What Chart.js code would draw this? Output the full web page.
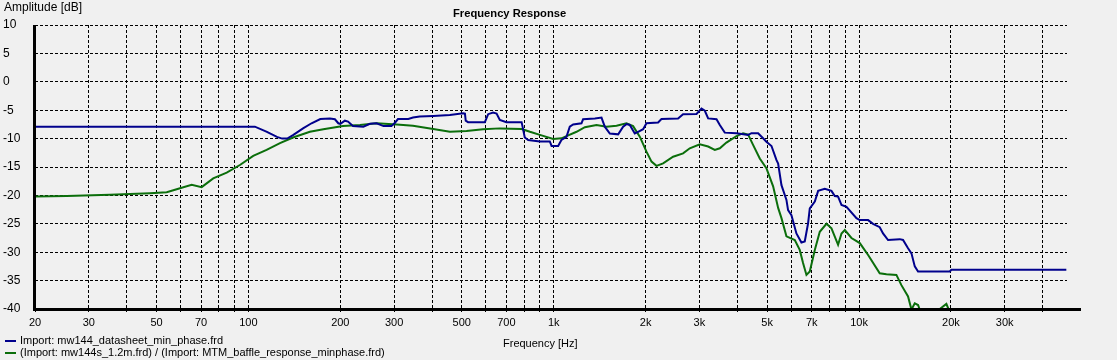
<!DOCTYPE html>
<html lang="en">
<head>
    <meta charset="UTF-8">
    <title>Frequency Response</title>
    <style>
        body {
            margin: 0;
            background-color: #f0f0f0;
            font-family: "Liberation Sans", Arial, sans-serif;
            font-size: 11px;
            color: #000;
        }
        .wrap {
            position: relative;
            width: 1117px;
            height: 360px;
            overflow: hidden;
        }
        canvas {
            position: absolute;
            left: 0;
            top: 0;
        }
        .lbl {
            position: absolute;
            white-space: nowrap;
            line-height: 14px;
        }
        .title {
            left: 453px;
            top: 6px;
            font-weight: bold;
            font-size: 11.2px;
        }
        .ytitle {
            left: 4px;
            top: 0px;
            font-size: 12px;
        }
        .xtitle {
            left: 503px;
            top: 336px;
        }
        .leg {
            position: absolute;
            left: 5px;
            white-space: nowrap;
            line-height: 12px;
        }
        .leg span {
            display: inline-block;
            width: 11px;
            height: 2px;
            margin-right: 4px;
            vertical-align: middle;
        }
    </style>
    <script src="https://cdn.jsdelivr.net/npm/chart.js"></script>
</head>
<body>
<div class="wrap">
    <canvas id="chart" width="1117" height="360"></canvas>
    <div class="lbl title">Frequency Response</div>
    <div class="lbl ytitle">Amplitude [dB]</div>
    <div class="lbl xtitle">Frequency [Hz]</div>
    <div class="leg" style="top: 334px"><span style="background:#00008c"></span>Import: mw144_datasheet_min_phase.frd</div>
    <div class="leg" style="top: 346px"><span style="background:#0b6e0b"></span>(Import: mw144s_1.2m.frd) / (Import: MTM_baffle_response_minphase.frd)</div>
</div>

<script>
    // grid positions and which of them get a label
    const gridFreqs = [20, 30, 40, 50, 60, 70, 80, 90,
        100, 200, 300, 400, 500, 600, 700, 800, 900,
        1000, 2000, 3000, 4000, 5000, 6000, 7000, 8000, 9000,
        10000, 20000, 30000, 40000];
    const labelFreqs = [20, 30, 50, 70, 100, 200, 300, 500, 700,
        1000, 2000, 3000, 5000, 7000, 10000, 20000, 30000];

    // mw144 datasheet (blue)
    const blueFreq = [20, 105, 115, 124, 129, 134, 140, 151, 161, 172, 185, 192, 197, 200, 207, 212, 220, 238, 250, 263,
        277, 294, 302, 309, 334, 346, 364, 403, 457, 505, 512, 515, 524, 595, 610, 633, 650, 666, 700, 785,
        804, 825, 901, 971, 984, 1034, 1060, 1101, 1129, 1158, 1233, 1248, 1364, 1434, 1470, 1527, 1626, 1688, 1731, 1775,
        1843, 1890, 1963, 2013, 2198, 2254, 2555, 2653, 2936, 3048, 3126, 3205, 3414, 3500, 3633, 3970, 4333, 4444, 4672, 4851,
        4973, 5168, 5367, 5434, 5572, 5785, 5857, 6007, 6237, 6477, 6642, 6811, 6899, 7165, 7347, 7724, 8124, 8330, 8540, 8763,
        9099, 9809, 10058, 10711, 11118, 11690, 11987, 12448, 13595, 13939, 14475, 14852, 15227, 15610, 19817, 20070, 47760];
    const blueDb = [-7.9, -7.9, -8.8, -9.7, -10.0, -10.0, -9.4, -8.2, -7.3, -6.55, -6.45, -6.6, -7.3, -7.4, -6.85, -7.0, -7.8, -7.9, -7.4, -7.3,
        -7.8, -7.8, -7.2, -6.55, -6.55, -6.3, -6.1, -6.0, -5.85, -5.55, -5.6, -6.85, -7.1, -7.1, -5.7, -5.4, -5.6, -6.7, -7.1, -7.1,
        -9.8, -10.25, -10.5, -10.5, -11.3, -11.3, -10.25, -9.7, -7.9, -7.5, -7.3, -6.6, -6.45, -6.3, -7.9, -9.1, -9.25, -7.9, -7.45, -7.6,
        -9.1, -8.8, -8.35, -7.3, -7.15, -6.55, -6.45, -5.7, -5.65, -4.7, -5.1, -6.45, -6.6, -7.6, -8.95, -9.05, -9.35, -9.05, -9.05, -9.95,
        -10.55, -11.3, -13.8, -14.4, -18.2, -20.8, -22.6, -23.5, -26.7, -28.3, -28.1, -24.9, -22.3, -21.1, -19.2, -18.85, -19.2, -20.1, -20.2, -21.7,
        -22.0, -24.0, -24.35, -24.35, -25.0, -25.6, -26.7, -27.85, -27.7, -27.85, -29.3, -30.2, -32.5, -33.4, -33.4, -33.1, -33.1];

    // mw144s 1.2m / MTM baffle (green)
    const greenFreq = [20, 25.4, 35.2, 47.6, 54, 59.7, 65.2, 70.3, 76.7, 84.9, 93.8, 103.7, 114.7, 126.9, 140, 159, 176, 204, 232, 263,
        306, 346, 403, 457, 518, 587, 666, 785, 836, 901, 996, 1060, 1101, 1188, 1265, 1381, 1489, 1606, 1731, 1820,
        1914, 2013, 2091, 2171, 2282, 2461, 2653, 2791, 3010, 3205, 3370, 3500, 3679, 3970, 4171, 4333, 4498, 4731, 4973, 5232,
        5434, 5572, 5785, 6161, 6395, 6557, 6727, 6899, 7165, 7439, 7824, 8124, 8540, 8763, 8985, 9446, 10058, 10711, 11690, 12295,
        13257, 13767, 14475, 14852, 15227, 15610, 15800, 16800, 17800, 18384, 19325, 19600, 19900, 21000];
    const greenDb = [-20.2, -20.1, -19.9, -19.6, -19.45, -18.75, -18.15, -18.55, -17.0, -16.0, -14.65, -13.05, -12.0, -10.8, -9.8, -8.8, -8.35, -7.8, -7.6, -7.3,
        -7.5, -7.75, -8.3, -8.8, -8.65, -8.35, -8.2, -8.3, -8.8, -9.35, -10.05, -9.95, -9.55, -8.8, -8.0, -7.6, -7.9, -7.75, -7.3, -7.8,
        -9.65, -12.3, -14.05, -14.8, -14.35, -13.2, -12.6, -11.7, -11.0, -11.4, -12.0, -11.7, -10.7, -9.55, -9.05, -9.3, -11.1, -13.5, -15.2, -18.4,
        -22.2, -24.0, -27.2, -27.85, -29.6, -31.9, -34.0, -33.4, -29.6, -26.4, -25.0, -25.8, -28.7, -26.7, -26.1, -27.5, -28.4, -30.5, -33.7, -33.9,
        -34.0, -35.8, -37.8, -40.1, -39.0, -39.3, -40.1, -44, -43, -40.0, -39.1, -39.9, -40.5, -46];

    const toPoints = (fs, ds) => fs.map((f, i) => ({ x: f, y: ds[i] }));

    // solid x axis line, a bit longer than the grid
    const axisLines = {
        id: 'axisLines',
        afterDraw(chart) {
            const { ctx, chartArea } = chart;
            ctx.save();
            ctx.strokeStyle = '#000';
            ctx.lineWidth = 3;
            ctx.setLineDash([]);
            ctx.beginPath();
            ctx.moveTo(chartArea.left - 1.5, chartArea.bottom + 0.5);
            ctx.lineTo(1081, chartArea.bottom + 0.5);
            ctx.moveTo(chartArea.left - 0.5, chartArea.top);
            ctx.lineTo(chartArea.left - 0.5, chartArea.bottom + 2);
            ctx.stroke();
            ctx.restore();
        }
    };

    Chart.defaults.font.family = '"Liberation Sans", Arial, sans-serif';
    Chart.defaults.font.size = 11;
    Chart.defaults.color = '#000';

    new Chart(document.getElementById('chart'), {
        type: 'line',
        data: {
            datasets: [
                {
                    label: 'Import: mw144_datasheet_min_phase.frd',
                    data: toPoints(blueFreq, blueDb),
                    borderColor: '#00008c',
                    borderWidth: 2,
                    pointRadius: 0,
                    tension: 0
                },
                {
                    label: '(Import: mw144s_1.2m.frd) / (Import: MTM_baffle_response_minphase.frd)',
                    data: toPoints(greenFreq, greenDb),
                    borderColor: '#0b6e0b',
                    borderWidth: 2,
                    pointRadius: 0,
                    tension: 0
                }
            ]
        },
        options: {
            responsive: false,
            animation: false,
            layout: { padding: { top: 25, right: 50, left: 3, bottom: 0 } },
            plugins: {
                legend: { display: false },
                title: { display: false },
                tooltip: { enabled: false }
            },
            scales: {
                x: {
                    type: 'logarithmic',
                    min: 20,
                    max: 48000,
                    afterBuildTicks: scale => {
                        scale.ticks = gridFreqs.map(v => ({ value: v }));
                    },
                    afterFit: scale => { scale.height = 51; },
                    ticks: {
                        autoSkip: false,
                        maxRotation: 0,
                        padding: 2,
                        callback: v => {
                            if (!labelFreqs.includes(v)) return '';
                            return v >= 1000 ? (v / 1000) + 'k' : String(v);
                        }
                    },
                    grid: {
                        color: '#000',
                        lineWidth: 1,
                        drawTicks: true,
                        tickLength: 5,
                        tickColor: '#000',
                        tickBorderDash: [3, 2]
                    },
                    border: { display: false, dash: [3, 2] }
                },
                y: {
                    min: -40,
                    max: 10,
                    afterFit: scale => { scale.width = 32; },
                    ticks: {
                        stepSize: 5,
                        crossAlign: 'far',
                        padding: 0,
                        font: { size: 12 }
                    },
                    grid: { color: '#000', lineWidth: 1, drawTicks: false },
                    border: { display: false, dash: [3, 2] }
                }
            }
        },
        plugins: [axisLines]
    });
</script>
</body>
</html>
